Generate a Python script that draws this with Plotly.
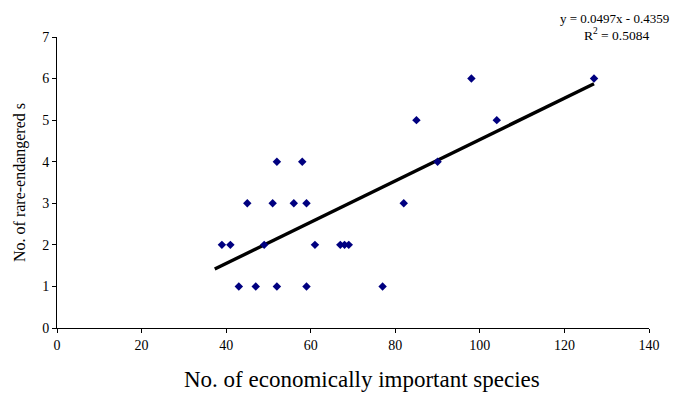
import plotly.graph_objects as go

econ_species = [39, 41, 43, 45, 47, 49, 51, 52, 52, 56, 58, 59, 59, 61, 67, 68, 69, 77, 82, 85, 90, 98, 104, 127]
rare_endangered = [2, 2, 1, 3, 1, 2, 3, 4, 1, 3, 4, 3, 1, 2, 2, 2, 2, 1, 3, 5, 4, 6, 5, 6]
slope = 0.0497
intercept = -0.4359
r_squared = 0.5084
trend_x = [37.3, 127]
trend_y = [slope * v + intercept for v in trend_x]

font = "Liberation Serif, Times New Roman, serif"

fig = go.Figure()
fig.add_trace(go.Scatter(
    x=trend_x, y=trend_y, mode="lines",
    line=dict(color="black", width=3.4), hoverinfo="skip", showlegend=False))
fig.add_trace(go.Scatter(
    x=econ_species, y=rare_endangered, mode="markers",
    marker=dict(symbol="diamond", color="#000080", size=6.5, line=dict(width=0)),
    showlegend=False))

fig.add_annotation(
    x=0.9409, y=1.0636, xref="paper", yref="paper", xanchor="center", yanchor="middle",
    text=f"y = {slope}x - {abs(intercept)}", showarrow=False,
    font=dict(family=font, size=13, color="black"))
fig.add_annotation(
    x=0.9455, y=1.0069, xref="paper", yref="paper", xanchor="center", yanchor="middle",
    text=f"R<sup>2</sup> = {r_squared}", showarrow=False,
    font=dict(family=font, size=13.5, color="black"))
fig.add_annotation(
    x=0.515, y=-0.176, xref="paper", yref="paper", xanchor="center", yanchor="middle",
    text="No. of economically important species", showarrow=False,
    font=dict(family=font, size=23, color="black"))

fig.update_layout(
    width=673, height=385,
    margin=dict(l=49, r=32, t=29, b=65),
    paper_bgcolor="white", plot_bgcolor="white",
    font=dict(family=font, color="black"),
    xaxis=dict(
        range=[0, 140], dtick=20, tick0=0, showgrid=False, zeroline=False,
        showline=True, linecolor="black", linewidth=1, automargin=False,
        ticks="outside", ticklen=4, tickcolor="black",
        tickfont=dict(family=font, size=14)),
    yaxis=dict(
        range=[0, 7], dtick=1, tick0=0, showgrid=False, zeroline=False,
        showline=True, linecolor="black", linewidth=1, automargin=False,
        ticks="outside", ticklen=4, tickcolor="black",
        tickfont=dict(family=font, size=14),
        title=dict(text="No. of rare-endangered s",
                   font=dict(family=font, size=16), standoff=12)),
)

fig.write_html("out.html")
